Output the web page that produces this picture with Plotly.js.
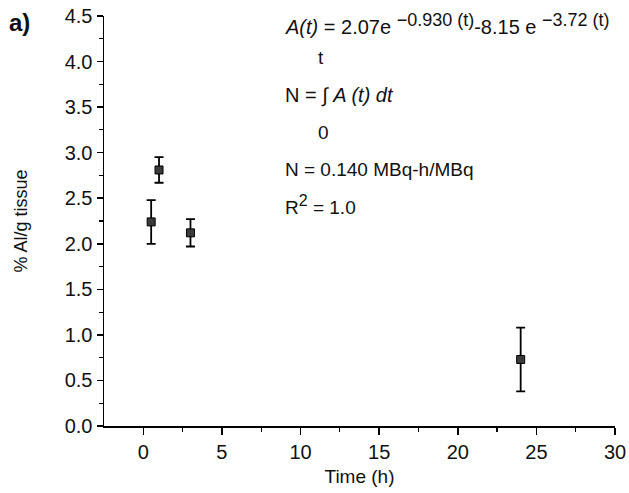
<!DOCTYPE html>
<html>
<head>
<meta charset="utf-8">
<script src="https://cdn.plot.ly/plotly-3.0.1.min.js"></script>
<style>html,body{margin:0;padding:0;background:#fff;}#chart{width:629px;height:493px;}</style>
</head>
<body>
<div id="chart"></div>
<script>
// Data
var timeHours = [0.5, 1, 3, 24];
var percentPerGram = [2.24, 2.81, 2.12, 0.73];
var errorValues = [0.24, 0.14, 0.15, 0.35];
var xTickVals = [0, 5, 10, 15, 20, 25, 30];
var yTickVals = [0, 0.5, 1, 1.5, 2, 2.5, 3, 3.5, 4, 4.5];

var FONT = 'Liberation Sans, Arial, sans-serif';
var L = 104, R = 615, T = 16, B = 426;
function px(x){ return (x - L) / (R - L); }
function py(y){ return (B - y) / (B - T); }

var trace = {
  x: timeHours,
  y: percentPerGram,
  type: 'scatter',
  mode: 'markers',
  marker: {symbol: 'square', size: 8, color: '#3a3a3a', line: {color: '#000', width: 1}},
  error_y: {type: 'data', array: errorValues, visible: true, color: '#000', thickness: 1.8, width: 4.5},
  showlegend: false,
  hoverinfo: 'x+y'
};

var annFont = {family: FONT, size: 19, color: '#111'};
var sup = function(s, sz){ return '<sup><span style="font-size:' + sz + 'px">' + s + '</span></sup>'; };
var layout = {
  width: 629, height: 493,
  margin: {l: L, r: 629 - R, t: T, b: 493 - B},
  paper_bgcolor: '#fff', plot_bgcolor: '#fff',
  font: {family: FONT, size: 18, color: '#111'},
  xaxis: {
    range: [-2.5, 30], showgrid: false, zeroline: false,
    showline: true, linecolor: '#000', linewidth: 1.5,
    ticks: 'outside', ticklen: 7, tickwidth: 1.5, tickcolor: '#000',
    tickvals: xTickVals, ticktext: xTickVals.map(String),
    minor: {ticks: 'outside', ticklen: 4, tickwidth: 1.2, tickcolor: '#000', tickvals: [2.5, 7.5, 12.5, 17.5, 22.5, 27.5]},
    tickfont: {family: FONT, size: 20, color: '#111'},
    title: {text: 'Time (h)', font: {family: FONT, size: 19, color: '#111'}, standoff: 8}
  },
  yaxis: {
    range: [0, 4.5], showgrid: false, zeroline: false,
    showline: true, linecolor: '#000', linewidth: 1.5,
    ticks: 'outside', ticklen: 6, tickwidth: 1.5, tickcolor: '#000',
    tickvals: yTickVals, ticktext: yTickVals.map(function(v){return v.toFixed(1);}),
    minor: {ticks: 'outside', ticklen: 4, tickwidth: 1.2, tickcolor: '#000', tickvals: [0.25, 0.75, 1.25, 1.75, 2.25, 2.75, 3.25, 3.75, 4.25]},
    tickfont: {family: FONT, size: 20, color: '#111'},
    title: {text: '% Al/g tissue', font: {family: FONT, size: 18, color: '#111'}, standoff: 32}
  },
  annotations: [
    {xref: 'paper', yref: 'paper', x: px(7), y: py(22), xanchor: 'left', yanchor: 'middle', showarrow: false,
     text: '<b>a)</b>', font: {family: FONT, size: 24, color: '#111'}},
    {xref: 'paper', yref: 'paper', x: px(283), y: py(24), xanchor: 'left', yanchor: 'middle', showarrow: false,
     text: '<i>A(t)</i> = 2.07e ' + sup('\u22120.930 (t)', 18) + '-8.15 e ' + sup('\u22123.72 (t)', 18),
     font: {family: FONT, size: 20, color: '#111'}},
    {xref: 'paper', yref: 'paper', x: px(316), y: py(58), xanchor: 'left', yanchor: 'middle', showarrow: false,
     text: 't', font: annFont},
    {xref: 'paper', yref: 'paper', x: px(283), y: py(96), xanchor: 'left', yanchor: 'middle', showarrow: false,
     text: 'N = \u222B <i>A (t) dt</i>', font: {family: FONT, size: 20, color: '#111'}},
    {xref: 'paper', yref: 'paper', x: px(316), y: py(132), xanchor: 'left', yanchor: 'middle', showarrow: false,
     text: '0', font: annFont},
    {xref: 'paper', yref: 'paper', x: px(283), y: py(169), xanchor: 'left', yanchor: 'middle', showarrow: false,
     text: 'N = 0.140 MBq-h/MBq', font: annFont},
    {xref: 'paper', yref: 'paper', x: px(283), y: py(205), xanchor: 'left', yanchor: 'middle', showarrow: false,
     text: 'R' + sup('2', 16) + ' = 1.0', font: annFont}
  ]
};

Plotly.newPlot('chart', [trace], layout, {displayModeBar: false, staticPlot: true});
</script>
</body>
</html>
